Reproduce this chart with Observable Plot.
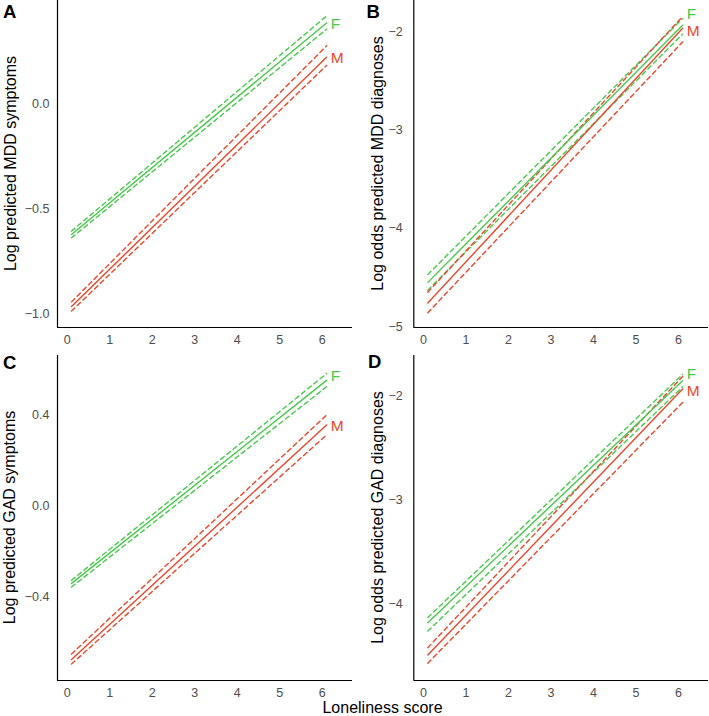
<!DOCTYPE html>
<html>
<head>
<meta charset="utf-8">
<script src="https://cdn.jsdelivr.net/npm/d3@7"></script>
<script src="https://cdn.jsdelivr.net/npm/@observablehq/plot@0.6"></script>
<style>
  html, body { margin: 0; padding: 0; background: #fff; }
  #root { position: relative; width: 709px; height: 716px; overflow: hidden; font-family: "Liberation Sans", Arial, sans-serif; }
  #root svg { position: absolute; }
</style>
</head>
<body>
<div id="root"></div>
<script>
// ---------- data ----------
const loneliness = [0.1, 6.1];            // x at the two ends of every fitted line
const xTicks = [0, 1, 2, 3, 4, 5, 6];
const sexes = ["F", "M"];
const panelLetters = ["A", "B", "C", "D"];
const yTitles = [
  "Log predicted MDD symptoms",
  "Log odds predicted MDD diagnoses",
  "Log predicted GAD symptoms",
  "Log odds predicted GAD diagnoses"
];
const xTitle = "Loneliness score";

// y-axis ticks per panel
const yTicksA = [-1.0, -0.5, 0.0];
const yTicksB = [-5, -4, -3, -2];
const yTicksC = [-0.4, 0.0, 0.4];
const yTicksD = [-4, -3, -2];

// y domains per panel
const yDomainA = [-1.065, 0.492];
const yDomainB = [-5.01, -1.677];
const yDomainC = [-0.771, 0.665];
const yDomainD = [-4.736, -1.608];
const xDomain = [-0.23, 6.71];

// Panel A: MDD symptoms (fit, upper CI, lower CI) at x = 0.1 and 6.1
const aF_fit = [-0.622, 0.385], aF_hi = [-0.606, 0.418], aF_lo = [-0.638, 0.355];
const aM_fit = [-0.965, 0.222], aM_hi = [-0.943, 0.276], aM_lo = [-0.987, 0.183];
// Panel B: MDD diagnoses
const bF_fit = [-4.55, -1.93], bF_hi = [-4.47, -1.86], bF_lo = [-4.63, -2.02];
const bM_fit = [-4.76, -1.96], bM_hi = [-4.65, -1.84], bM_lo = [-4.86, -2.10];
// Panel C: GAD symptoms
const cF_fit = [-0.342, 0.555], cF_hi = [-0.328, 0.585], cF_lo = [-0.358, 0.527];
const cM_fit = [-0.678, 0.358], cM_hi = [-0.654, 0.402], cM_lo = [-0.698, 0.314];
// Panel D: GAD diagnoses
const dF_fit = [-4.18, -1.85], dF_hi = [-4.13, -1.79], dF_lo = [-4.26, -1.91];
const dM_fit = [-4.49, -1.93], dM_hi = [-4.42, -1.81], dM_lo = [-4.57, -2.06];

// end labels (data coordinates)
const labelX = 6.2;
const labelYA = [0.382, 0.22];
const labelYB = [-1.82, -1.99];
const labelYC = [0.575, 0.354];
const labelYD = [-1.79, -1.95];

// ---------- styling ----------
const colors = { F: "#47c94a", M: "#e8472b" };
const font = "Liberation Sans, Arial, Helvetica, sans-serif";

function rowsFor(series) {
  const rows = [];
  for (const s of sexes) {
    for (const kind of ["fit", "hi", "lo"]) {
      series[s][kind].forEach((v, i) => rows.push({ x: loneliness[i], y: v, sex: s, kind, key: s + kind }));
    }
  }
  return rows;
}

const minus = s => s.replace("-", "\u2212");

function panel(cfg) {
  const rows = rowsFor(cfg.series);
  const labels = sexes.map((s, i) => ({ x: labelX, y: cfg.labelY[i], sex: s }));
  const svg = Plot.plot({
    width: cfg.width,
    height: cfg.height,
    marginLeft: cfg.ml,
    marginRight: cfg.mr,
    marginTop: cfg.mt,
    marginBottom: cfg.mb,
    style: { fontFamily: font, fontSize: "12.5px", color: "#4d4d4d", background: "transparent", overflow: "visible" },
    x: { domain: xDomain },
    y: { domain: cfg.yDomain },
    marks: [
      Plot.axisX({ ticks: xTicks, tickSize: 0, tickPadding: 8, label: null, tickFormat: d => String(d) }),
      Plot.axisY({ ticks: cfg.yTicks, tickSize: 0, tickPadding: cfg.padY, label: null, tickFormat: d => minus(cfg.fmt(d)) }),
      Plot.ruleX([xDomain[0]], { stroke: "black", strokeWidth: 1.2 }),
      Plot.ruleY([cfg.yDomain[0]], { stroke: "black", strokeWidth: 1.2 }),
      Plot.line(rows.filter(d => d.kind !== "fit"), { x: "x", y: "y", z: "key", stroke: d => colors[d.sex], strokeWidth: 1.4, strokeDasharray: "4.5,3.5" }),
      Plot.line(rows.filter(d => d.kind === "fit"), { x: "x", y: "y", z: "key", stroke: d => colors[d.sex], strokeWidth: 1.4 }),
      Plot.text(labels, { x: "x", y: "y", text: "sex", fill: d => colors[d.sex], textAnchor: "start", fontSize: 15.5, lineAnchor: "middle" })
    ]
  });
  svg.style.left = cfg.left + "px";
  svg.style.top = cfg.top + "px";
  return svg;
}

const root = document.getElementById("root");
const f1 = d3.format(".1f"), f0 = d3.format("d");

const configs = [
  { left: 0,   top: 0,   width: 354, height: 350, ml: 57,   mr: 2, mt: 0, mb: 23, padY: 8,  yDomain: yDomainA, yTicks: yTicksA, fmt: f1,
    series: { F: { fit: aF_fit, hi: aF_hi, lo: aF_lo }, M: { fit: aM_fit, hi: aM_hi, lo: aM_lo } }, labelY: labelYA },
  { left: 354, top: 0,   width: 355, height: 350, ml: 59.3, mr: 1, mt: 0, mb: 23, padY: 11, yDomain: yDomainB, yTicks: yTicksB, fmt: f0,
    series: { F: { fit: bF_fit, hi: bF_hi, lo: bF_lo }, M: { fit: bM_fit, hi: bM_hi, lo: bM_lo } }, labelY: labelYB },
  { left: 0,   top: 350, width: 354, height: 355, ml: 57,   mr: 2, mt: 5, mb: 25, padY: 8,  yDomain: yDomainC, yTicks: yTicksC, fmt: f1,
    series: { F: { fit: cF_fit, hi: cF_hi, lo: cF_lo }, M: { fit: cM_fit, hi: cM_hi, lo: cM_lo } }, labelY: labelYC },
  { left: 354, top: 350, width: 355, height: 355, ml: 59.3, mr: 1, mt: 5, mb: 25, padY: 11, yDomain: yDomainD, yTicks: yTicksD, fmt: f0,
    series: { F: { fit: dF_fit, hi: dF_hi, lo: dF_lo }, M: { fit: dM_fit, hi: dM_hi, lo: dM_lo } }, labelY: labelYD }
];
configs.forEach(c => root.appendChild(panel(c)));

// overlay: panel letters, y titles, x title
const overlay = d3.select(root).append("svg")
  .attr("width", 709).attr("height", 716)
  .style("left", "0px").style("top", "0px")
  .style("pointer-events", "none")
  .style("font-family", font);

const letterPos = [[3, 18.3], [366.5, 17.8], [3, 368.6], [368, 368.4]];
panelLetters.forEach((L, i) => {
  overlay.append("text").attr("x", letterPos[i][0]).attr("y", letterPos[i][1])
    .attr("font-size", 18.5).attr("font-weight", "bold").attr("fill", "black").text(L);
});

const titlePos = [[10, 163.5], [377.5, 163.5], [9.5, 517.5], [377.5, 517.5]];
yTitles.forEach((t, i) => {
  const [x, y] = titlePos[i];
  overlay.append("text").attr("x", x).attr("y", y)
    .attr("transform", `rotate(-90, ${x}, ${y})`)
    .attr("text-anchor", "middle").attr("dominant-baseline", "central")
    .attr("font-size", 16).attr("fill", "black").text(t);
});

overlay.append("text").attr("x", 382.5).attr("y", 713)
  .attr("text-anchor", "middle").attr("font-size", 16).attr("fill", "black").text(xTitle);
</script>
</body>
</html>
